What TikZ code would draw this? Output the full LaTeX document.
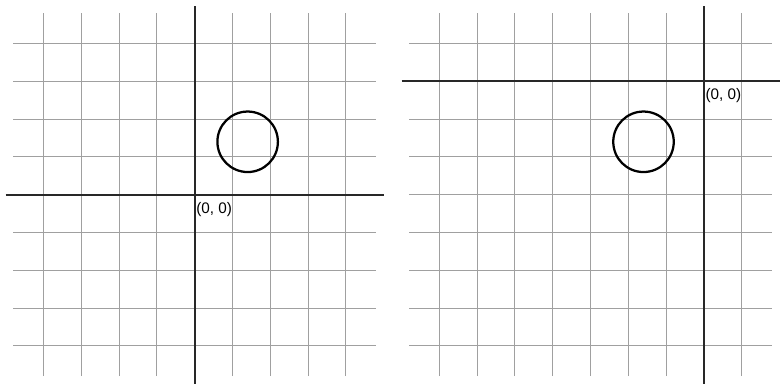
\documentclass[tikz,border=0pt]{standalone}
\usepackage{fontspec}
\setmainfont{Liberation Sans}
\usetikzlibrary{positioning}
\definecolor{gridgray}{RGB}{160,160,160}
\definecolor{axisdark}{RGB}{40,40,40}

\begin{document}
\begin{tikzpicture}[
  gridline/.style={draw=gridgray, line width=0.8pt},
  axisline/.style={draw=axisdark, line width=1.2pt},
  ring/.style={draw=black, line width=1.7pt},
  origin/.style={anchor=north west, inner sep=1pt, yshift=-4.5pt, font=\fontsize{11.5}{13}\selectfont}
]
  \useasboundingbox (-5.15,-4.98) rectangle (15.48,5.15);

  % panel shift / origin of the axes
  \foreach \dx/\ox/\name in {0/0/left, 10.47/3/right} {
    \begin{scope}[xshift=\dx cm]
      \foreach \k in {-4,...,4} {
        \draw[gridline] (\k,-4.8) -- (\k,4.8);
        \draw[gridline] (-4.8,\k) -- (4.8,\k);
      }
      \draw[axisline] (-5,\ox) -- (5,\ox);
      \draw[axisline] (\ox,-5) -- (\ox,5);
      \node[origin] (o-\name) at (\ox,\ox) {(0, 0)};
      \draw[ring] (1.4,1.4) circle (0.8);
    \end{scope}
  }
\end{tikzpicture}
\end{document}
